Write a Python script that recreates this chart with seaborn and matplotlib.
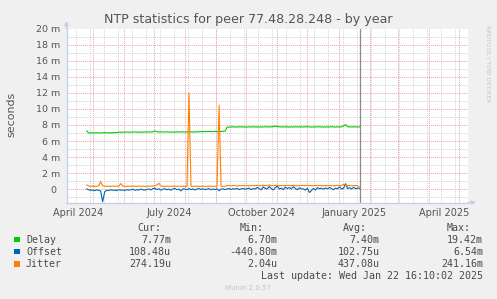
import numpy as np
import pandas as pd
import matplotlib
matplotlib.use("Agg")
import matplotlib.pyplot as plt
import matplotlib.dates as mdates
from matplotlib.patches import Rectangle
from matplotlib.ticker import FixedLocator, FixedFormatter, NullFormatter
import seaborn as sns

# ---------------- data (milliseconds -> shown with "m" unit) ----------------
series_names = ["Delay", "Offset", "Jitter"]
series_colors = ["#00CC00", "#0066B3", "#FF8000"]

sample_start = "2024-04-25"
sample_end = "2025-01-22"

delay = [
    7.28,
    7.02, 7.00, 7.03, 7.01, 7.04, 7.02, 7.00, 7.03, 7.05, 7.02, 7.04, 7.01, 7.03, 7.06, 7.04,
    7.10, 7.12, 7.09, 7.11, 7.13, 7.10, 7.12, 7.11, 7.14, 7.12, 7.10, 7.13, 7.11, 7.12, 7.14, 7.12, 7.13, 7.15,
    7.26,
    7.16, 7.13, 7.14, 7.12, 7.13, 7.15, 7.12, 7.14, 7.13, 7.11, 7.14, 7.13, 7.15, 7.12, 7.14, 7.13, 7.16, 7.14, 7.13, 7.15, 7.14,
    7.17, 7.18, 7.16, 7.19, 7.18, 7.20, 7.17, 7.19, 7.21, 7.18, 7.20, 7.19, 7.22, 7.24,
    7.72, 7.75, 7.74, 7.77, 7.76, 7.74, 7.78, 7.75, 7.77, 7.76,
    7.74, 7.77, 7.75, 7.78, 7.76, 7.75, 7.77, 7.74, 7.76, 7.78,
    7.77, 7.75, 7.78, 7.80, 7.86, 7.82, 7.77, 7.76, 7.75, 7.78,
    7.76, 7.74, 7.77, 7.75, 7.76, 7.78, 7.74, 7.76, 7.75, 7.77,
    7.79, 7.76, 7.74, 7.77, 7.75, 7.76, 7.78, 7.75, 7.74, 7.76,
    7.77, 7.75, 7.78, 7.76, 7.74, 7.77, 7.75, 7.76, 7.90, 8.05,
    7.80, 7.76, 7.75, 7.78, 7.76, 7.75, 7.77,
]

offset = [
    0.05, -0.05, -0.12, -0.10, -0.15, -0.08, -0.12, -0.20, -1.55, -0.35,
    -0.10, -0.14, -0.06, -0.12, -0.09, -0.15, -0.05, -0.11, -0.08, -0.13,
    -0.04, -0.10, -0.07, 0.02, -0.12, -0.06, -0.09, 0.03, -0.05, -0.10,
    -0.02, 0.05, -0.08, 0.08, 0.15, -0.04, 0.06, -0.10, 0.02, 0.07,
    -0.06, 0.04, -0.12, 0.05, 0.10, -0.05, 0.03, -0.20, 0.06, 0.02,
    -0.04, 0.08, -0.03, 0.05, -0.08, 0.04, 0.09, -0.02, 0.06, -0.05,
    0.03, 0.08, -0.06, 0.05, -0.03, 0.07, -0.18, 0.02, 0.06, -0.04,
    0.05, 0.10, -0.02, 0.08, 0.03, 0.12, -0.04, 0.06, 0.09, 0.02,
    0.07, 0.15, -0.05, 0.10, 0.04, 0.25, 0.08, -0.06, 0.30, 0.12,
    0.05, 0.35, 0.10, -0.08, 0.20, 0.40, 0.06, 0.15, -0.04, 0.28,
    0.10, 0.22, 0.05, 0.33, 0.12, -0.06, 0.18, 0.08, 0.05, -0.10,
    0.15, -0.40, -0.15, 0.12, -0.08, 0.20, 0.08, 0.14, 0.02, 0.18,
    0.06, 0.22, 0.10, -0.05, 0.15, 0.08, 0.30, 0.05, 0.12, 0.70,
    0.10, 0.20, 0.05, 0.25, 0.08, 0.15, 0.11,
]

jitter = [
    0.55, 0.42, 0.38, 0.40, 0.36, 0.39, 0.41, 0.95, 0.45, 0.40,
    0.37, 0.39, 0.36, 0.40, 0.38, 0.42, 0.37, 0.72, 0.40, 0.38,
    0.36, 0.39, 0.37, 0.41, 0.38, 0.36, 0.40, 0.37, 0.39, 0.38,
    0.36, 0.40, 0.38, 0.42, 0.45, 0.55, 0.75, 0.42, 0.38, 0.36,
    0.37, 0.39, 0.36, 0.38, 0.40, 0.37, 0.39, 0.36, 0.38, 0.37,
    0.36, 12.00, 0.38, 0.37, 0.39, 0.36, 0.38, 0.37, 0.40, 0.38,
    0.36, 0.39, 0.37, 0.38, 0.36, 0.40, 10.45, 0.38, 0.36, 0.37,
    0.45, 0.48, 0.44, 0.47, 0.45, 0.43, 0.46, 0.44, 0.47, 0.45,
    0.44, 0.46, 0.43, 0.47, 0.45, 0.50, 0.46, 0.44, 0.52, 0.47,
    0.45, 0.55, 0.46, 0.44, 0.48, 0.50, 0.45, 0.47, 0.44, 0.49,
    0.46, 0.48, 0.45, 0.50, 0.47, 0.44, 0.46, 0.48, 0.45, 0.47,
    0.49, 0.45, 0.46, 0.44, 0.47, 0.45, 0.48, 0.46, 0.44, 0.47,
    0.45, 0.48, 0.46, 0.44, 0.47, 0.49, 0.45, 0.46, 0.60, 0.52,
    0.45, 0.47, 0.44, 0.48, 0.46, 0.45, 0.27,
]

y_tick_values = [0, 2, 4, 6, 8, 10, 12, 14, 16, 18, 20]
y_tick_labels = ["0 ", "2 m", "4 m", "6 m", "8 m", "10 m", "12 m", "14 m", "16 m", "18 m", "20 m"]
x_label_dates = ["2024-04-16 12:00", "2024-07-16 12:00", "2024-10-16 12:00",
                 "2025-01-16 12:00", "2025-04-16 12:00"]
x_labels = ["April 2024", "July 2024", "October 2024", "January 2025", "April 2025"]

legend_rows = [
    ("Delay", "7.77m", "6.70m", "7.40m", "19.42m"),
    ("Offset", "108.48u", "-440.80m", "102.75u", "6.54m"),
    ("Jitter", "274.19u", "2.04u", "437.08u", "241.16m"),
]
last_update = "Last update: Wed Jan 22 16:10:02 2025"
title = "NTP statistics for peer 77.48.28.248 - by year"

# ---------------- build frame ----------------
dates = pd.date_range(sample_start, sample_end, freq="2D")
df = pd.DataFrame({"date": dates, "Delay": delay, "Offset": offset, "Jitter": jitter})
long = df.melt(id_vars="date", var_name="series", value_name="value")

sns.set_style("white")
plt.rcParams["font.family"] = ["DejaVu Sans"]

W, H = 497, 299
fig = plt.figure(figsize=(W / 100, H / 100), dpi=100, facecolor="#F0F0F0")
top_px, bot_px, left_px, right_px = 28.5, 202.5, 66.5, 468
ax = fig.add_axes([left_px / W, 1 - bot_px / H, (right_px - left_px) / W, (bot_px - top_px) / H])
ax.set_facecolor("white")

RED = "#EBA3A3"
GRAY = "#D2D2D2"
AXC = "#C4CBF2"
TXT = "#555555"
dot = (0, (1, 1))

sns.lineplot(data=long, x="date", y="value", hue="series", hue_order=series_names,
             palette=series_colors, linewidth=0.8, legend=False, estimator=None, ax=ax,
             zorder=3)

xmin, xmax = pd.Timestamp("2024-04-05"), pd.Timestamp("2025-05-10")
ymin, ymax = -1.64, 20
ax.set_xlim(xmin, xmax)
ax.set_ylim(ymin, ymax)

# minor vertical grid (every two weeks)
minor_v = pd.date_range("2024-04-14", "2025-05-10", freq="14D")
ax.vlines(minor_v, ymin, ymax, colors=GRAY, linestyles=dot, linewidth=0.7, zorder=0.4)

# x axis: month starts as major (red grid), labels as minor ticks
ax.xaxis.set_major_locator(mdates.MonthLocator())
ax.xaxis.set_major_formatter(NullFormatter())
ax.xaxis.set_minor_locator(FixedLocator(mdates.date2num(pd.to_datetime(x_label_dates))))
ax.xaxis.set_minor_formatter(FixedFormatter(x_labels))
ax.tick_params(axis="x", which="major", length=2, width=0.7, color=RED)
ax.tick_params(axis="x", which="minor", length=0, pad=4, labelsize=7, labelcolor=TXT)

ax.set_yticks(y_tick_values)
ax.set_yticklabels(y_tick_labels)
ax.yaxis.set_minor_locator(FixedLocator(np.arange(-1, 20, 2)))
ax.tick_params(axis="y", which="major", length=2, width=0.7, color=RED, pad=2.6,
               labelsize=6.8, labelcolor=TXT)
ax.tick_params(axis="y", which="minor", length=0)

ax.set_axisbelow(True)
ax.grid(which="major", axis="both", color=RED, linestyle=dot, linewidth=0.7)
ax.grid(which="minor", axis="y", color=GRAY, linestyle=dot, linewidth=0.7)
ax.grid(which="minor", axis="x", visible=False)

ax.set_xlabel("")
ax.set_ylabel("")

for s in ["top", "right"]:
    ax.spines[s].set_visible(False)
for s in ["left", "bottom"]:
    ax.spines[s].set_color(AXC)
    ax.spines[s].set_linewidth(0.9)
    ax.spines[s].set_zorder(4)

# "now" rule
ax.axvline(pd.Timestamp("2025-01-22 16:10"), color="#8A8A8A", linewidth=0.9, zorder=4)

# axis arrows
ax.annotate("", xy=(0, 1 + 7.5 / (bot_px - top_px)), xytext=(0, 1), xycoords="axes fraction",
            arrowprops=dict(arrowstyle="-|>", color=AXC, lw=0.9, mutation_scale=6,
                            shrinkA=0, shrinkB=0), annotation_clip=False)
ax.annotate("", xy=(1 + 8 / (right_px - left_px), 0), xytext=(1, 0), xycoords="axes fraction",
            arrowprops=dict(arrowstyle="-|>", color=AXC, lw=0.9, mutation_scale=6,
                            shrinkA=0, shrinkB=0), annotation_clip=False)


def fx(x):
    return x / W


def fy(y):
    return 1 - y / H


fig.text(fx(248), fy(19.3), title, ha="center", va="center", fontsize=9.1, color=TXT)
fig.text(fx(11), fy(114.6), "seconds", rotation=90, ha="center", va="center",
         fontsize=7.9, color=TXT)
fig.text(fx(487.7), fy(63.5), "RRDTOOL / TOBI OETIKER", rotation=270, ha="center",
         va="center", fontsize=4.3, color="#C4C4C4")

MONO = "DejaVu Sans Mono"
LFS = 7.2
LTXT = "#4A4A4A"
header_starts = [137, 240, 343, 447]
col_ends = [171, 277, 379.5, 483]
for name, x0 in zip(["Cur:", "Min:", "Avg:", "Max:"], header_starts):
    fig.text(fx(x0), fy(231), name, ha="left", va="baseline", fontsize=LFS,
             family=MONO, color=LTXT)

row_base = [242.7, 254.9, 267.0]
sq_top = [236.6, 248.8, 261.0]
for (name, *vals), yb, st, col in zip(legend_rows, row_base, sq_top, series_colors):
    fig.add_artist(Rectangle((fx(14), fy(st + 5.6)), 5.6 / W, 5.6 / H,
                             transform=fig.transFigure, facecolor=col, edgecolor="none"))
    fig.text(fx(26), fy(yb), name, ha="left", va="baseline", fontsize=LFS,
             family=MONO, color=LTXT)
    for v, xe in zip(vals, col_ends):
        fig.text(fx(xe), fy(yb), v, ha="right", va="baseline", fontsize=LFS,
                 family=MONO, color=LTXT)

fig.text(fx(483), fy(279), last_update, ha="right", va="baseline", fontsize=LFS,
         family=MONO, color=LTXT)
fig.text(fx(248), fy(290.5), "Munin 2.0.57", ha="center", va="baseline", fontsize=5,
         color="#C4C4C4")

fig.savefig("out.png", dpi=100, facecolor=fig.get_facecolor())
